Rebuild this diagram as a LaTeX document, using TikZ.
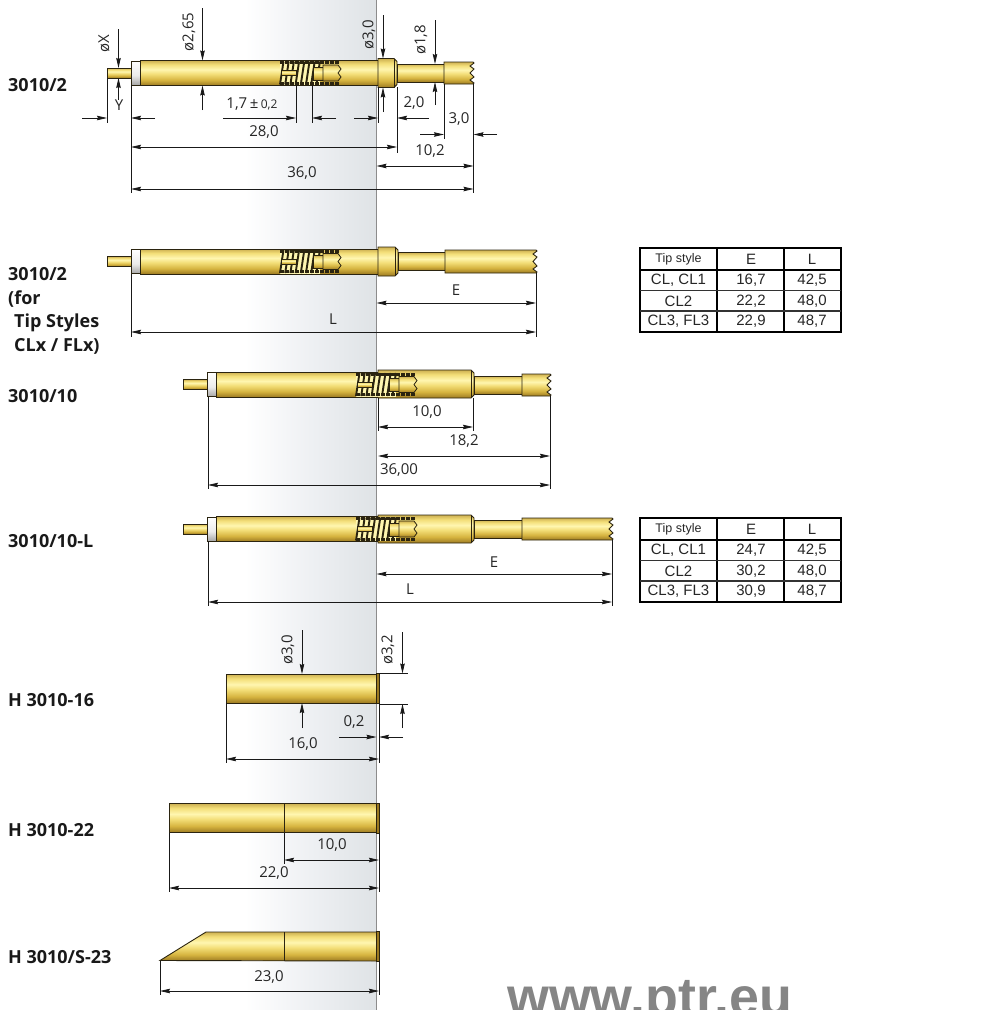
\documentclass[tikz,border=0pt]{standalone}
\usepackage{fontspec}
\setmainfont{Open Sans}
\newfontfamily\tablefont{Liberation Sans}
\newfontfamily\urlfont{Liberation Sans}
\usetikzlibrary{arrows.meta}

\definecolor{goldA}{HTML}{9C7A22}
\definecolor{goldB}{HTML}{D6B440}
\definecolor{goldE}{HTML}{F3DE78}
\definecolor{goldC}{HTML}{FFF6B0}
\definecolor{goldD}{HTML}{CDB052}
\definecolor{panelmid}{HTML}{EEF0F3}
\definecolor{panelgray}{HTML}{DFE3E6}
\definecolor{edgegray}{HTML}{8C8C8C}
\definecolor{inkdark}{HTML}{2B2410}
\pgfdeclareverticalshading{goldbar}{100bp}{color(0bp)=(goldA); color(25bp)=(goldA); color(36bp)=(goldB); color(48bp)=(goldE); color(57bp)=(goldC); color(67bp)=(goldE); color(75bp)=(goldD); color(100bp)=(goldD)}
\pgfdeclareverticalshading{silverbar}{100bp}{color(0bp)=(black!35); color(25bp)=(black!35); color(45bp)=(black!8); color(75bp)=(white); color(100bp)=(white)}

\tikzset{
  goldpart/.style={draw=inkdark,line width=0.9pt,shading=goldbar},
  collarpart/.style={draw=inkdark,line width=0.8pt,shading=silverbar},
  dimline/.style={line width=0.8pt,draw=black!90},
  dimboth/.style={dimline,{Stealth[length=10pt,width=4.5pt,inset=1pt]}-{Stealth[length=10pt,width=4.5pt,inset=1pt]}},
  dimhalf/.style={dimline,-{Stealth[length=10pt,width=4.5pt,inset=1pt]}},
  dimtext/.style={inner sep=0pt,font=\fontsize{15}{17}\selectfont,text=black!85},
  rowlabel/.style={anchor=west,inner sep=0pt,font=\fontsize{18}{23.5}\selectfont\bfseries,text=black!90},
  tablecell/.style={inner sep=0pt,font=\fontsize{15}{17}\tablefont,text=black!85},
  tablehead/.style={inner sep=0pt,font=\fontsize{12.5}{15}\tablefont,text=black!85},
}

% plunger, white collar and barrel up to the panel edge
\newcommand{\probeshaft}[2]{
  \draw[goldpart] (#1,{#2-5}) rectangle ({#1+24},{#2+5});
  \draw[collarpart] ({#1+24},{#2-12}) rectangle ({#1+33},{#2+12});
  \draw[goldpart] ({#1+33},{#2-12.5}) rectangle (378,{#2+12.5});
}
% shoulder with chamfered end
\newcommand{\probehead}[4]{
  \draw[goldpart] (#1,{#3-#4}) -- ({#2-3},{#3-#4}) -- (#2,{#3-#4+3}) -- (#2,{#3+#4-3}) -- ({#2-3},{#3+#4}) -- (#1,{#3+#4}) -- cycle;
  \draw[line width=0.6pt,inkdark] ({#2-3},{#3-#4}) -- ({#2-3},{#3+#4});
}
% neck and crown tip
\newcommand{\probetip}[5]{
  \draw[goldpart] (#1,{#4-9}) rectangle (#2,{#4+9});
  \draw[goldpart] (#2,{#4-#5}) -- (#3,{#4-#5}) -- ({#3+1},{#4-#5+1}) -- ({#3-3},{#4-#5+4}) -- ({#3+1},{#4-#5+7}) -- ({#3-3},{#4}) -- ({#3+1},{#4+#5-7}) -- ({#3-3},{#4+#5-4}) -- ({#3+1},{#4+#5-1}) -- (#3,{#4+#5}) -- (#2,{#4+#5}) -- cycle;
}
% cut-away of the spring
\newcommand{\springcut}[2]{
  \begin{scope}[shift={(#1,#2)}]
    \fill[goldC] (0,-12) rectangle (40,12);
    \foreach \i in {0,...,7}
      \draw[inkdark,line width=1.9pt] ({\i*5.2},11.5) -- ({\i*5.2+3.5},-11.5);
    \draw[inkdark,line width=3pt,dash pattern=on 3.5pt off 1.5pt] (0,-10.2) -- (60,-10.2);
    \draw[inkdark,line width=3pt,dash pattern=on 3.5pt off 1.5pt] (0,10.2) -- (60,10.2);
    \draw[goldpart,line width=0.8pt] (1,-2.5) rectangle (16,2.5);
    \draw[goldpart,line width=0.8pt] (33,-6) rectangle (43,7);
    \draw[goldpart,line width=0.8pt] (43,-8) -- (58,-8) -- (61,-4) -- (58,0) -- (61,4) -- (58,8) -- (43,8) -- cycle;
  \end{scope}
}
% dimension table
\newcommand{\tipstable}[3]{
  \begin{scope}[shift={(#1,#2)}]
    \draw[line width=1.4pt,black] (0,0) rectangle (201,84);
    \draw[line width=1.4pt,black] (77,0) -- (77,84) (144,0) -- (144,84) (0,22) -- (201,22);
    \draw[line width=1.3pt,black!80] (0,42.5) -- (201,42.5) (0,63) -- (201,63);
    \node[tablehead] (head#2a) at (38.5,11) {Tip style};
    \node[tablecell] (head#2b) at (111,11) {E};
    \node[tablecell] (head#2c) at (172,11) {L};
    \foreach \cellA/\cellB/\cellC [count=\r] in {#3} {
      \node[tablecell] (row#2a\r) at (38.5,{12+20.5*\r}) {\cellA};
      \node[tablecell] (row#2b\r) at (111,{12+20.5*\r}) {\cellB};
      \node[tablecell] (row#2c\r) at (172,{12+20.5*\r}) {\cellC};
    }
  \end{scope}
}

\begin{document}
\begin{tikzpicture}[x=1pt,y=1pt,yscale=-1,xscale=1]
  \useasboundingbox (0,0) rectangle (1000,1010);
  \clip (0,0) rectangle (1000,1010);

  %Shape: Panel
  \shade[left color=white,right color=panelgray,middle color=panelmid] (245,0) rectangle (376,1010);
  \draw[edgegray,line width=1.6pt] (376.5,0) -- (376.5,1010);

  %Shape: Probe 3010/2
  \probeshaft{107}{73}
  \probehead{378}{397}{73}{14.5}
  \probetip{397}{444}{473}{73}{11}
  \springcut{280}{73}
  %Shape: Probe 3010/2 for CLx
  \probeshaft{107}{261.5}
  \probehead{378}{398}{261.5}{14.5}
  \probetip{398}{445}{536}{261.5}{11.5}
  \springcut{280}{261.5}
  %Shape: Probe 3010/10
  \probeshaft{183}{384.5}
  \probehead{378}{474}{384}{14}
  \probetip{474}{522}{550}{385}{11}
  \springcut{356}{384.5}
  %Shape: Probe 3010/10-L
  \probeshaft{183}{529}
  \probehead{378}{474}{529}{14}
  \probetip{474}{522}{612}{529}{11}
  \springcut{356}{529}

  %Shape: Housing H 3010-16
  \draw[goldpart] (226,674) rectangle (376.5,703);
  \draw[goldpart,shading=axis,top color=goldA,bottom color=goldA] (376.5,673.5) rectangle (379,703.5);
  %Shape: Housing H 3010-22
  \draw[goldpart] (169,803.5) rectangle (376.5,832.5);
  \draw[goldpart,shading=axis,top color=goldA,bottom color=goldA] (376.5,803) rectangle (379,833);
  \draw[line width=0.8pt,inkdark] (284,803.5) -- (284,832.5);
  %Shape: Housing H 3010/S-23
  \draw[goldpart] (160,960.5) -- (206,932) -- (376.5,932) -- (376.5,961) -- cycle;
  \draw[goldpart,shading=axis,top color=goldA,bottom color=goldA] (376.5,931) rectangle (379,961.5);
  \draw[line width=0.8pt,inkdark] (284,932) -- (284,961);

  %Straight Lines: 3010/2
  \draw[dimhalf] (118.5,29) -- (118.5,68);
  \draw[dimhalf] (118.5,100) -- (118.5,78);
  \draw[dimline] (107,78) -- (107,123);
  \draw[dimline] (131,85) -- (131,193);
  \draw[dimhalf] (82,118) -- (107,118);
  \draw[dimhalf] (155,118) -- (131,118);
  \draw[dimhalf] (202.5,8) -- (202.5,60.5);
  \draw[dimhalf] (202.5,110) -- (202.5,85.5);
  \draw[dimline] (296,85) -- (296,123);
  \draw[dimline] (312,85) -- (312,123);
  \draw[dimhalf] (223,118) -- (296,118);
  \draw[dimhalf] (336,118) -- (312,118);
  \draw[dimboth] (131,147) -- (397,147);
  \draw[dimline] (397,87) -- (397,153);
  \draw[dimhalf] (383,15) -- (383,58.5);
  \draw[dimhalf] (383,112) -- (383,87.5);
  \draw[dimline] (378,87) -- (378,123);
  \draw[dimhalf] (354,118) -- (378,118);
  \draw[dimhalf] (429,118) -- (397,118);
  \draw[dimhalf] (435,20) -- (435,64);
  \draw[dimhalf] (435,105) -- (435,82);
  \draw[dimline] (444,84) -- (444,139);
  \draw[dimhalf] (420,134.5) -- (444,134.5);
  \draw[dimhalf] (497,134.5) -- (473.5,134.5);
  \draw[dimline] (473.5,84) -- (473.5,193);
  \draw[dimboth] (376.5,166) -- (473.5,166);
  \draw[dimboth] (131,189) -- (473.5,189);

  %Straight Lines: 3010/2 for CLx
  \draw[dimline] (131,274) -- (131,337);
  \draw[dimline] (536,273) -- (536,337);
  \draw[dimboth] (376.5,303) -- (536,303);
  \draw[dimboth] (131,332) -- (536,332);

  %Straight Lines: 3010/10
  \draw[dimline] (378,398) -- (378,431);
  \draw[dimline] (473,398) -- (473,431);
  \draw[dimline] (550,396) -- (550,489);
  \draw[dimline] (208,397) -- (208,489);
  \draw[dimboth] (378,427) -- (473,427);
  \draw[dimboth] (378,456) -- (550,456);
  \draw[dimboth] (208,485) -- (550,485);

  %Straight Lines: 3010/10-L
  \draw[dimline] (612,540) -- (612,606);
  \draw[dimline] (208,541) -- (208,606);
  \draw[dimboth] (376.5,574) -- (612,574);
  \draw[dimboth] (208,602) -- (612,602);

  %Straight Lines: H 3010-16
  \draw[dimhalf] (302,630) -- (302,674);
  \draw[dimhalf] (302,728) -- (302,703);
  \draw[dimline] (379,673.5) -- (408,673.5);
  \draw[dimline] (379,704) -- (408,704);
  \draw[dimhalf] (402.5,632) -- (402.5,673.5);
  \draw[dimhalf] (402.5,728) -- (402.5,704);
  \draw[dimhalf] (339,737) -- (376.5,737);
  \draw[dimhalf] (403,737) -- (379,737);
  \draw[dimline] (226,703) -- (226,763);
  \draw[dimline] (379,703) -- (379,763);
  \draw[dimboth] (226,759) -- (379,759);

  %Straight Lines: H 3010-22
  \draw[dimline] (284,833) -- (284,864);
  \draw[dimline] (169,833) -- (169,892);
  \draw[dimline] (379,833) -- (379,892);
  \draw[dimboth] (284,860) -- (379,860);
  \draw[dimboth] (169,888) -- (379,888);

  %Straight Lines: H 3010/S-23
  \draw[dimline] (160,961) -- (160,995);
  \draw[dimline] (379,961) -- (379,995);
  \draw[dimboth] (160,991) -- (379,991);

  % Text Node
  \node[rowlabel] (lab1) at (8,85) {3010/2};
  \node[rowlabel,align=left,anchor=north west] (lab2) at (8,267.5) {3010/2\\(for\\\hspace*{6pt}Tip Styles\\\hspace*{6pt}CLx / FLx)};
  \node[rowlabel] (lab3) at (8,396) {3010/10};
  \node[rowlabel] (lab4) at (8,541) {3010/10-L};
  \node[rowlabel] (lab5) at (8,700) {H 3010-16};
  \node[rowlabel] (lab6) at (8,830) {H 3010-22};
  \node[rowlabel] (lab7) at (8,957) {H 3010/S-23};

  % Text Node
  \node[dimtext,rotate=90] (dimX) at (104,44) {øX};
  \node[dimtext] (dimY) at (119,105) {Y};
  \node[dimtext,rotate=90] (dimA) at (189,32) {ø2,65};
  \node[dimtext] (dimB) at (252,104) {1,7{\,}±{\,}\fontsize{12}{14}\selectfont 0,2};
  \node[dimtext] (dimC) at (264,132) {28,0};
  \node[dimtext,rotate=90] (dimD) at (369,35) {ø3,0};
  \node[dimtext,rotate=90] (dimE) at (421,40) {ø1,8};
  \node[dimtext] (dimF) at (414,103) {2,0};
  \node[dimtext] (dimG) at (459,119) {3,0};
  \node[dimtext] (dimH) at (430,151) {10,2};
  \node[dimtext] (dimI) at (302,173) {36,0};
  \node[dimtext] (dimJ) at (456,290) {E};
  \node[dimtext] (dimK) at (333,319) {L};
  \node[dimtext] (dimL) at (427,412) {10,0};
  \node[dimtext] (dimM) at (464,441) {18,2};
  \node[dimtext] (dimN) at (399,470) {36,00};
  \node[dimtext] (dimO) at (494,562) {E};
  \node[dimtext] (dimP) at (410,589) {L};
  \node[dimtext,rotate=90] (dimQ) at (288,650) {ø3,0};
  \node[dimtext,rotate=90] (dimR) at (388,650) {ø3,2};
  \node[dimtext] (dimS) at (354,722) {0,2};
  \node[dimtext] (dimT) at (303,744) {16,0};
  \node[dimtext] (dimU) at (332,845) {10,0};
  \node[dimtext] (dimV) at (274,873) {22,0};
  \node[dimtext] (dimW) at (269,977) {23,0};

  %Shape: Tables
  \tipstable{640}{248}{{CL, CL1}/{16,7}/{42,5},{CL2}/{22,2}/{48,0},{CL3, FL3}/{22,9}/{48,7}}
  \tipstable{640}{518}{{CL, CL1}/{24,7}/{42,5},{CL2}/{30,2}/{48,0},{CL3, FL3}/{30,9}/{48,7}}

  % Text Node
  \node[anchor=base west,inner sep=0pt,text=black!48,font=\fontsize{53.8}{60}\urlfont\bfseries] (url) at (507,1015) {www.ptr.eu};
\end{tikzpicture}
\end{document}
